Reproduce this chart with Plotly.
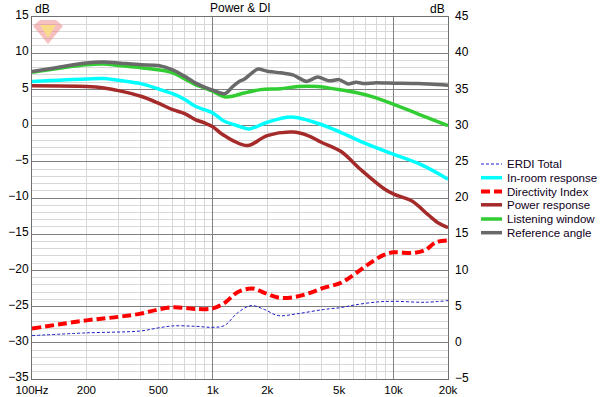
import plotly.graph_objects as go

# ---------------- data ----------------
ref_f = [100, 200, 250, 300, 400, 500, 600, 700, 800, 900, 1000, 1100, 1160, 1200, 1290, 1400, 1490,
         1770, 2000, 2370, 2770, 3300, 3800, 4400, 5000, 5600, 6200, 6900, 7850, 10100, 13700, 20000]
ref_db = [7.46, 8.66, 8.8, 8.66, 8.4, 8.3, 7.7, 6.8, 5.9, 5.3, 4.9, 4.5, 4.4, 4.6, 5.4, 6.1, 6.4,
          7.8, 7.5, 7.3, 7.0, 6.1, 6.7, 6.2, 6.35, 5.75, 6.0, 5.8, 5.9, 5.85, 5.8, 5.57]

lw_f = [100, 200, 250, 300, 400, 500, 600, 700, 800, 900, 1000, 1100, 1180, 1300, 1490, 1840,
        2370, 2960, 3800, 4700, 6100, 7850, 10100, 13700, 20000]
lw_db = [7.37, 8.4, 8.5, 8.3, 8.0, 7.7, 7.3, 6.45, 5.66, 5.2, 4.74, 4.2, 3.95, 4.1, 4.5, 4.97,
         5.1, 5.4, 5.4, 5.07, 4.6, 3.9, 2.9, 1.6, 0.0]

room_f = [100, 200, 250, 300, 400, 500, 600, 700, 800, 900, 1000, 1100, 1160, 1400, 1590, 2000,
          2700, 3500, 4700, 6600, 10100, 14200, 20000]
room_db = [6.1, 6.45, 6.5, 6.26, 5.8, 5.07, 4.4, 3.6, 2.67, 2.2, 1.75, 0.97, 0.6, -0.1, -0.46, 0.46,
           1.2, 0.6, -0.55, -2.2, -4.0, -5.4, -7.4]

pow_f = [100, 200, 250, 300, 400, 500, 600, 700, 800, 900, 1000, 1100, 1200, 1300, 1560, 2000,
         2770, 3360, 3980, 5100, 6600, 8900, 10100, 12700, 15500, 17800, 20000]
pow_db = [5.5, 5.4, 5.2, 4.83, 4.05, 3.1, 2.2, 1.66, 0.83, 0.37, -0.15, -1.0, -1.6, -2.1, -2.76, -1.38,
          -0.9, -1.38, -2.3, -3.55, -6.1, -8.75, -9.5, -10.45, -12.3, -13.5, -14.1]

di_f = [100, 200, 300, 400, 500, 600, 700, 800, 1000, 1160, 1370, 1660, 1930, 2300, 2800, 3360,
        4100, 5100, 6100, 7200, 8900, 10100, 12700, 14900, 17200, 20000]
di_db = [1.96, 3.1, 3.58, 4.03, 4.6, 4.9, 4.82, 4.68, 4.76, 5.5, 6.98, 7.5, 6.9, 6.25, 6.3, 6.8,
         7.58, 8.27, 9.5, 10.8, 12.18, 12.5, 12.4, 12.8, 13.9, 14.15]

erdi_f = [100, 200, 400, 500, 600, 800, 1000, 1160, 1370, 1630, 1930, 2300, 2960, 4100, 5100,
          6100, 8200, 10100, 14900, 20000]
erdi_db = [0.99, 1.37, 1.64, 2.06, 2.33, 2.28, 2.14, 2.38, 4.13, 5.14, 4.6, 3.76, 4.03, 4.6, 4.86,
           5.23, 5.65, 5.73, 5.6, 5.83]

x_tickvals = [100, 200, 500, 1000, 2000, 5000, 10000, 20000]
x_ticktext = ["100Hz", "200", "500", "1k", "2k", "5k", "10k", "20k"]
x_minor = [m * d for d in (100, 1000, 10000) for m in range(1, 10) if m * d <= 20000]
x_major_grid = [1000, 10000]

legend_names = ["ERDI Total", "In-room response", "Directivity Index",
                "Power response", "Listening window", "Reference angle"]

FONT = "Liberation Sans, Arial, sans-serif"

# ---------------- layout geometry (pixels) ----------------
W, H = 600, 397
ML, MR, MT, MB = 32, 152, 17, 18
PW, PH = W - ML - MR, H - MT - MB


def px_x(x):
    return (x - ML) / PW


def px_y(y):
    return (H - MB - y) / PH


styles = {
    "ERDI Total": dict(color="#1c1cc8", width=1, dash="3px,2px"),
    "In-room response": dict(color="#00ffff", width=3.5),
    "Directivity Index": dict(color="#ff0000", width=4, dash="9px,4px"),
    "Power response": dict(color="#a52a2a", width=3.5),
    "Listening window": dict(color="#32cd32", width=3.5),
    "Reference angle": dict(color="#696969", width=3.5),
}

fig = go.Figure()
fig.add_trace(go.Scatter(x=erdi_f, y=erdi_db, name="ERDI Total", xaxis="x2", yaxis="y2", mode="lines",
                         line=dict(shape="spline", **styles["ERDI Total"])))
fig.add_trace(go.Scatter(x=room_f, y=room_db, name="In-room response", mode="lines",
                         line=dict(shape="spline", **styles["In-room response"])))
fig.add_trace(go.Scatter(x=di_f, y=di_db, name="Directivity Index", xaxis="x2", yaxis="y2", mode="lines",
                         line=dict(shape="spline", **styles["Directivity Index"])))
fig.add_trace(go.Scatter(x=pow_f, y=pow_db, name="Power response", mode="lines",
                         line=dict(shape="spline", **styles["Power response"])))
fig.add_trace(go.Scatter(x=lw_f, y=lw_db, name="Listening window", mode="lines",
                         line=dict(shape="spline", **styles["Listening window"])))
fig.add_trace(go.Scatter(x=ref_f, y=ref_db, name="Reference angle", mode="lines",
                         line=dict(shape="spline", smoothing=0.6, **styles["Reference angle"])))

# manual compact legend
annotations = []
shapes = []
leg_y = [164, 177.7, 191.5, 204.8, 219, 232.7]
for name, yy in zip(legend_names, leg_y):
    st = styles[name]
    shapes.append(dict(type="line", xref="paper", yref="paper",
                       x0=px_x(481), x1=px_x(502), y0=px_y(yy), y1=px_y(yy),
                       line=dict(color=st["color"], width=st["width"] if st["width"] > 1 else 1.2,
                                 dash=st.get("dash", "solid"))))
    annotations.append(dict(text=name, x=px_x(505), y=px_y(yy), xref="paper", yref="paper",
                            xanchor="left", yanchor="middle", showarrow=False,
                            font=dict(size=11.5, color="#10001a")))

annotations += [
    dict(text="Power & DI", x=0.5, y=1, xref="paper", yref="paper", xanchor="center",
         yanchor="bottom", yshift=0, showarrow=False, font=dict(size=12)),
    dict(text="dB", x=0, y=1, xref="paper", yref="paper", xanchor="left", yanchor="bottom",
         xshift=1, yshift=-1, showarrow=False, font=dict(size=12)),
    dict(text="dB", x=1, y=1, xref="paper", yref="paper", xanchor="right", yanchor="bottom",
         xshift=-1, yshift=-1, showarrow=False, font=dict(size=12)),
]

# small gem logo
shapes += [
    dict(type="path", xref="paper", yref="paper",
         path=f"M {px_x(33)} {px_y(26)} L {px_x(40)} {px_y(20)} L {px_x(56)} {px_y(20)} "
              f"L {px_x(63)} {px_y(26)} L {px_x(48)} {px_y(44)} Z",
         fillcolor="rgba(240,140,140,0.55)", line=dict(width=0)),
    dict(type="path", xref="paper", yref="paper",
         path=f"M {px_x(40)} {px_y(25)} L {px_x(56)} {px_y(25)} L {px_x(48)} {px_y(38)} Z",
         fillcolor="rgba(250,230,120,0.75)", line=dict(width=0)),
]

fig.update_layout(
    width=W, height=H,
    margin=dict(l=ML, r=MR, t=MT, b=MB, autoexpand=False),
    paper_bgcolor="white", plot_bgcolor="white",
    font=dict(family=FONT, size=12, color="black"),
    showlegend=False,
    xaxis=dict(type="log", range=[2, 4.30103], tickvals=x_tickvals, ticktext=x_ticktext,
               showgrid=False, ticks="", showline=True, linecolor="#707070", linewidth=1, mirror=True,
               minor=dict(tickvals=x_minor, showgrid=True, gridcolor="#d8d8d8", gridwidth=1, ticks=""),
               zeroline=False, tickfont=dict(size=11.5), ticklabelstandoff=0),
    xaxis2=dict(type="log", range=[2, 4.30103], overlaying="x", tickvals=x_major_grid,
                showticklabels=False, showgrid=True, gridcolor="#808080", gridwidth=1, ticks="",
                zeroline=False, anchor="y2"),
    yaxis=dict(range=[-35, 15], dtick=5, showgrid=True, gridcolor="#808080", gridwidth=1,
               minor=dict(dtick=1, showgrid=True, gridcolor="#d8d8d8", gridwidth=1, ticks=""),
               ticks="", showline=True, linecolor="#707070", linewidth=1, mirror=True,
               zeroline=False, tickfont=dict(size=12), ticklabelshift=-2),
    yaxis2=dict(range=[-5, 45], dtick=5, overlaying="y", side="right", showgrid=False,
                ticks="", zeroline=False, tickfont=dict(size=12), ticklabelstandoff=6,
                ticklabelshift=-1),
    annotations=annotations,
    shapes=shapes,
)

fig.write_html("out.html", config={"displayModeBar": False},
               post_script="document.body.style.margin='0px';")
